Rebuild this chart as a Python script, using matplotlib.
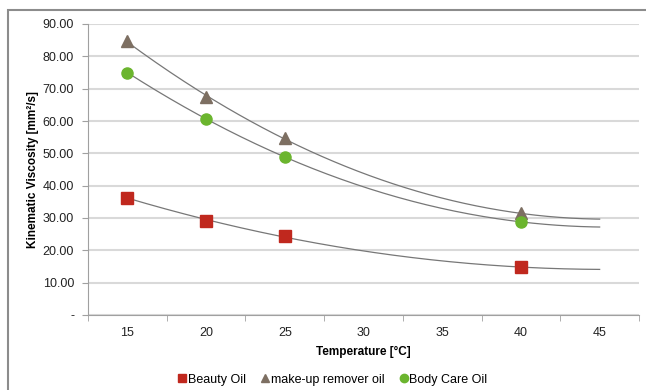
import numpy as np
import matplotlib
matplotlib.use("Agg")
import matplotlib.pyplot as plt
from matplotlib.patches import Rectangle
from matplotlib.ticker import FuncFormatter

plt.rcParams['font.family'] = ['Liberation Sans', 'DejaVu Sans']

temps = [15, 20, 25, 40]
beauty = [36.3, 29.2, 24.3, 14.8]
makeup = [84.6, 67.5, 54.7, 31.4]
bodycare = [75.0, 60.6, 48.9, 28.8]
x_ticks = [15, 20, 25, 30, 35, 40, 45]

series = [
    ("Beauty Oil", beauty, "s", "#c0281e", 8),
    ("make-up remover oil", makeup, "^", "#7d6f62", 8.5),
    ("Body Care Oil", bodycare, "o", "#6bb52e", 8),
]

fig = plt.figure(figsize=(6.46, 3.9), dpi=100)
ax = fig.add_axes([88 / 646, 1 - 315 / 390, (639 - 88) / 646, (315 - 24) / 390])

# outer chart border
fig.patches.append(Rectangle((8 / 646, -0.05), 1.2, 1 - 10 / 390 + 0.05,
                             transform=fig.transFigure, fill=False,
                             edgecolor="#8c8c8c", linewidth=1.5))

xs = np.linspace(15, 45, 200)
for name, vals, mk, col, ms in series:
    coef = np.polyfit(temps, vals, 2)
    ax.plot(xs, np.polyval(coef, xs), color="#777777", linewidth=0.9, zorder=2)
    ax.plot(temps, vals, linestyle="none", marker=mk, color=col,
            markersize=ms, label=name, zorder=3)

ax.set_xlim(12.5, 47.5)
ax.set_ylim(0, 90)
ax.set_yticks(np.arange(0, 91, 10))
ax.yaxis.set_major_formatter(FuncFormatter(lambda v, p: "-" if v == 0 else "%.2f" % v))
ax.set_xticks(x_ticks)
ax.set_xticks(np.arange(12.5, 48, 5), minor=True)
ax.tick_params(axis="x", which="major", length=0, pad=9, labelsize=9, labelcolor="#222222")
ax.tick_params(axis="x", which="minor", length=4, color="#a0a0a0", direction="out")
ax.tick_params(axis="y", length=4, color="#a0a0a0", pad=6, labelsize=9, labelcolor="#222222")

ax.grid(axis="y", color="#d9d9d9", linewidth=1.5)
ax.set_axisbelow(True)
for s in ["top", "right"]:
    ax.spines[s].set_visible(False)
ax.spines["left"].set_color("#a0a0a0")
ax.spines["bottom"].set_color("#a0a0a0")

ax.set_xlabel("Temperature [°C]", fontsize=8.5, fontweight="bold", labelpad=5)
ax.set_ylabel("Kinematic Viscosity [mm²/s]", fontsize=8.5, fontweight="bold", labelpad=3)

handles, labels = ax.get_legend_handles_labels()
leg = fig.legend(handles, labels, loc="center", bbox_to_anchor=(0.515, 0.026), ncol=3,
                 frameon=False, fontsize=9, handletextpad=0.1, columnspacing=1.2,
                 handlelength=0.7, markerscale=0.75)

fig.savefig("out.png", dpi=100)
